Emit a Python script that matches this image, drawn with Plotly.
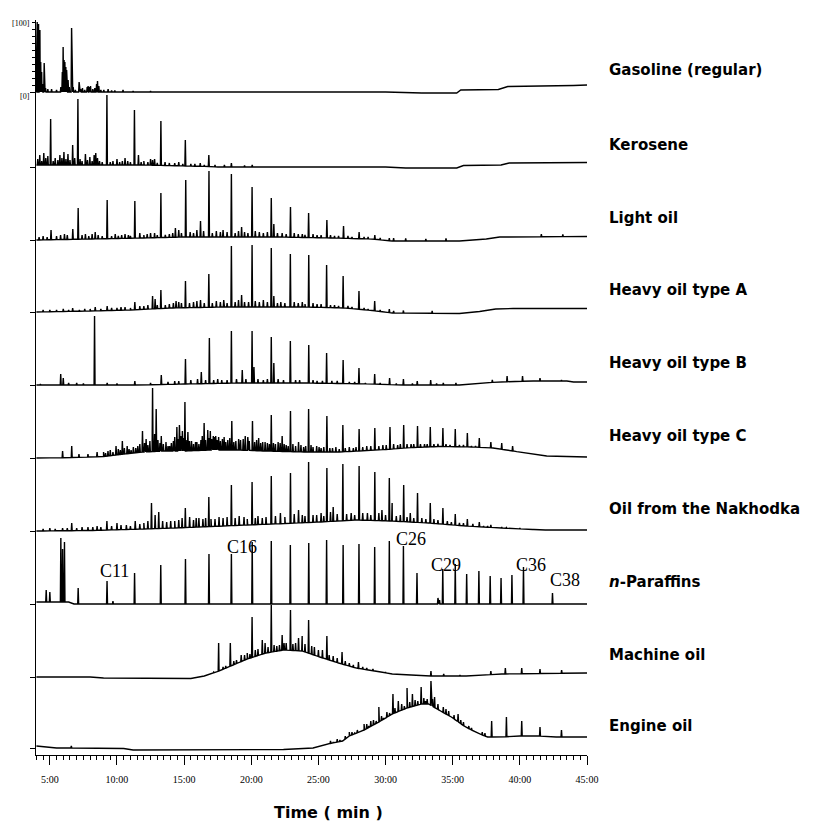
import numpy as np
import plotly.graph_objects as go

# ------------------------------------------------------------------ data
trace_names = ["Gasoline (regular)", "Kerosene", "Light oil", "Heavy oil type A",
               "Heavy oil type B", "Heavy oil type C", "Oil from the Nakhodka",
               "<i>n</i>-Paraffins", "Machine oil", "Engine oil"]

tick_times = [5, 10, 15, 20, 25, 30, 35, 40, 45]
tick_labels = ["5:00", "10:00", "15:00", "20:00", "25:00", "30:00", "35:00", "40:00", "45:00"]

# baseline drift (time [min], level) and peaks (time [min], height) for each chromatogram
gasoline_base = [(4, 0), (30, 0), (32.7, -1), (35.3, -1), (35.6, 2), (38.4, 2.5), (39.1, 5.5), (44, 6.5), (45, 7)]
gasoline_peaks = [(4.02, 40), (4.06, 70), (4.11, 55), (4.16, 68), (4.21, 45), (4.26, 62), (4.32, 30), (4.39, 20),
                  (4.45, 8), (4.58, 29), (4.68, 4), (4.85, 3), (5.13, 3), (5.5, 2), (5.82, 5), (5.93, 20), (5.99, 45),
                  (6.06, 32), (6.12, 30), (6.19, 25), (6.25, 22), (6.31, 14), (6.36, 12), (6.45, 5), (6.62, 64),
                  (6.74, 5), (6.9, 2), (7.18, 10), (7.3, 3), (7.43, 4), (7.6, 2), (7.78, 5), (7.85, 6), (7.95, 5),
                  (8.03, 6), (8.2, 3), (8.35, 4), (8.48, 8), (8.55, 11), (8.65, 6), (8.8, 2), (9.02, 2), (9.34, 3),
                  (9.6, 1.5), (9.84, 1.5), (10.45, 2), (11.2, 1), (12.5, 1)]

kerosene_base = [(4, 2), (9, 2), (12, 2), (16.8, 0.5), (17.5, 0), (30, 0), (31.5, -1), (35.3, -1), (35.8, 1.5),
                 (38.6, 2), (39.2, 4), (45, 4.5)]
kerosene_peaks = [(5.06, 48), (7.09, 68), (9.25, 72), (11.3, 57), (13.27, 46), (15.09, 27), (16.84, 12), (18.52, 4),
                  (20.07, 2),
                  (4.1, 8), (4.25, 12), (4.4, 6), (4.55, 14), (4.7, 9), (4.85, 11), (5.25, 6), (5.4, 9), (5.6, 7),
                  (5.75, 12), (5.9, 9), (6.05, 15), (6.2, 8), (6.35, 13), (6.5, 7), (6.7, 22), (6.85, 9), (7.25, 8),
                  (7.4, 6), (7.65, 13), (7.8, 7), (7.98, 10), (8.15, 6), (8.3, 12), (8.42, 14), (8.55, 9), (8.7, 6),
                  (8.9, 5), (9.5, 5), (9.7, 6), (10.0, 8), (10.2, 5), (10.4, 6), (10.6, 9), (10.8, 6), (11.0, 5),
                  (11.6, 12), (11.8, 5), (12.0, 6), (12.3, 5), (12.5, 8), (12.65, 7), (12.8, 8), (13.0, 4),
                  (13.58, 5), (13.9, 4), (14.3, 4), (14.6, 5), (14.9, 3), (15.5, 3), (15.8, 3), (16.2, 4), (16.5, 2),
                  (17.3, 2), (18.0, 2), (19.5, 1.5)]

light_base = [(4, 0), (8, 1), (12, 2), (15, 3), (22, 3), (26, 2), (29, 1), (30.5, -1), (35.5, -1), (37.5, 1),
              (38.5, 3), (45, 3.5)]
light_peaks = [(7.11, 32), (9.27, 40), (11.33, 39), (13.27, 47), (15.12, 60), (16.85, 69), (18.52, 66), (20.06, 53),
               (21.49, 42), (22.92, 33), (24.27, 27), (25.63, 20), (26.87, 14), (28.03, 8), (29.2, 5), (30.28, 2),
               (4.2, 3), (4.5, 4), (4.8, 3), (5.09, 10), (5.5, 4), (5.8, 5), (6.09, 6), (6.3, 5), (6.71, 11),
               (7.4, 5), (7.65, 6), (7.9, 4), (8.15, 6), (8.38, 8), (8.6, 5), (8.9, 4), (9.6, 4), (9.87, 6),
               (10.1, 4), (10.35, 5), (10.6, 6), (10.85, 5), (11.0, 4), (11.7, 7), (12.0, 5), (12.25, 6), (12.5, 7),
               (12.8, 7), (13.0, 5), (13.6, 5), (13.9, 6), (14.15, 7), (14.35, 12), (14.6, 10), (14.8, 7),
               (15.45, 8), (15.7, 7), (15.95, 10), (16.22, 19), (16.45, 9), (17.1, 7), (17.4, 9), (17.7, 8),
               (17.9, 10), (18.2, 8), (18.8, 7), (19.05, 9), (19.28, 13), (19.5, 8), (19.75, 7), (20.3, 9),
               (20.6, 8), (20.9, 7), (21.2, 8), (21.68, 16), (21.95, 7), (22.3, 7), (22.6, 6), (23.2, 7), (23.5, 6),
               (23.8, 6), (24.0, 5), (24.6, 6), (24.9, 5), (25.2, 5), (25.9, 5), (26.2, 4), (26.5, 4), (27.2, 4),
               (27.5, 3), (28.4, 3), (28.7, 3), (29.6, 2), (30.6, 2), (31.5, 1.5), (33, 1), (34.5, 1.5),
               (41.6, 6), (43.2, 5.5)]

heavyA_base = [(4, 0), (8, 1), (11, 2), (14, 4), (18, 5), (24, 5), (27, 4), (29, 1.5), (30.5, -1), (35.5, -1.5),
               (37, 0.5), (38.2, 3), (39.5, 3.5), (45, 3.5)]
heavyA_peaks = [(9.27, 6), (11.33, 10), (12.65, 16), (12.84, 13), (13.27, 22), (15.1, 31), (16.84, 38), (18.52, 66),
                (20.06, 67), (21.49, 64), (22.91, 58), (24.28, 57), (25.61, 47), (26.84, 36), (28.02, 21),
                (29.19, 11), (30.28, 3), (31.33, 1.5), (33.47, 1),
                (4.5, 2), (5.0, 2), (5.5, 2), (6.0, 3), (6.4, 2), (6.7, 4), (7.2, 2), (7.6, 3), (8.0, 3), (8.38, 5),
                (8.8, 3), (9.6, 4), (10.0, 4), (10.3, 5), (10.6, 5), (11.0, 4), (11.7, 6), (12.0, 6), (12.3, 7),
                (13.0, 7), (13.6, 7), (13.9, 8), (14.2, 9), (14.4, 11), (14.6, 10), (14.8, 9), (15.4, 9),
                (15.7, 10), (15.95, 11), (16.22, 12), (16.5, 9), (17.1, 9), (17.4, 11), (17.7, 10), (17.95, 12),
                (18.2, 9), (18.8, 10), (19.05, 12), (19.28, 17), (19.5, 10), (19.8, 10), (20.3, 11), (20.6, 10),
                (20.9, 12), (21.2, 10), (21.68, 16), (21.95, 9), (22.2, 10), (22.5, 9), (23.2, 10), (23.5, 9),
                (23.8, 10), (24.0, 8), (24.6, 9), (24.9, 8), (25.2, 8), (25.9, 7), (26.2, 7), (26.5, 6), (27.2, 6),
                (27.5, 5), (28.4, 4), (28.7, 3), (29.6, 2), (30.6, 1)]

heavyB_base = [(4, 0), (12, 0), (15, 1), (19, 2), (24, 2), (29, 1), (31, 0), (35.5, 0), (36.8, 1), (37.8, 2.5),
               (39.5, 3.5), (41, 4), (43.5, 4), (44, 3), (45, 3)]
heavyB_peaks = [(5.81, 11), (6.0, 7), (8.33, 69), (13.3, 10), (15.1, 26), (16.28, 13), (16.88, 47), (18.52, 54),
                (19.33, 15), (20.06, 54), (20.2, 18), (21.49, 48), (21.68, 22), (22.91, 44), (24.28, 40),
                (25.61, 32), (26.84, 25), (28.02, 17), (29.19, 11), (30.3, 7), (31.33, 6), (32.36, 4), (33.36, 5),
                (34.3, 2), (35.24, 2), (37.95, 5), (39.05, 9), (40.2, 9), (41.5, 7), (43.1, 5),
                (4.3, 1), (6.4, 2), (7.0, 2), (7.5, 1.5), (9.27, 2), (10, 1.5), (11.33, 4), (12.5, 2), (13.8, 3),
                (14.3, 4), (14.6, 4), (15.5, 5), (16.0, 6), (16.6, 5), (17.2, 5), (17.5, 6), (17.8, 5), (18.2, 5),
                (18.9, 6), (19.6, 6), (20.5, 6), (20.9, 5), (21.2, 6), (22.0, 6), (22.4, 5), (23.3, 5), (23.6, 5),
                (24.6, 5), (24.9, 4), (25.3, 4), (26.0, 4), (26.4, 4), (27.3, 3), (27.7, 3), (28.5, 2), (29.6, 2),
                (30.8, 1.5), (32, 1.5), (33.8, 1.5), (36, 1)]

heavyC_base = [(4, 0), (7, 0.5), (9, 1.5), (10.5, 4), (12, 6), (13.5, 7), (15, 7), (17, 8), (19, 8), (21, 7),
               (24, 6), (26.5, 6), (28, 7), (30, 8.5), (32, 10.5), (34, 11.5), (36.5, 11), (38, 10), (39.5, 7),
               (40.8, 4), (42, 2), (43.5, 1.5), (45, 1)]
heavyC_peaks = [(5.95, 7), (6.63, 12), (7.17, 4), (7.84, 4), (8.52, 6), (9.33, 7), (9.93, 12), (10.4, 17),
                (10.76, 12), (11.22, 11), (11.9, 27), (12.17, 19), (12.65, 70), (12.92, 49), (13.3, 22), (13.65, 16),
                (13.92, 12), (14.46, 31), (14.65, 33), (14.87, 27), (15.06, 56), (15.28, 26), (15.55, 17),
                (15.95, 16), (16.49, 35), (16.76, 28), (16.95, 27), (17.17, 22), (17.35, 22), (17.57, 21),
                (17.98, 21), (18.55, 37), (19.06, 19), (19.55, 22), (19.74, 21), (20.09, 37), (20.55, 20),
                (21.03, 16), (21.49, 43), (22.3, 22), (22.92, 47), (23.52, 16), (24.27, 49), (24.87, 12),
                (25.63, 42), (26.82, 33), (28.03, 29), (29.2, 30), (30.33, 31), (31.35, 33), (32.38, 32),
                (33.33, 31), (34.27, 30), (35.19, 29), (36.09, 25), (36.98, 20), (37.84, 16), (38.65, 15),
                (39.46, 12),
                (9.0, 6), (9.15, 5), (9.5, 8), (9.7, 6), (10.1, 9), (10.25, 8), (10.55, 10), (10.9, 9), (11.05, 8),
                (11.4, 10), (11.55, 12), (11.7, 14), (12.05, 15), (12.3, 13), (12.45, 17), (12.8, 24), (13.05, 18),
                (13.2, 15), (13.45, 14), (13.8, 12), (14.05, 15), (14.2, 17), (14.3, 21), (14.55, 19), (14.75, 22),
                (14.95, 20), (15.15, 18), (15.4, 17), (15.7, 14), (15.85, 16), (16.1, 14), (16.25, 18), (16.35, 22),
                (16.6, 18), (16.85, 20), (17.05, 19), (17.25, 21), (17.45, 18), (17.7, 17), (17.85, 19), (18.1, 16),
                (18.25, 18), (18.4, 20), (18.7, 16), (18.85, 17), (19.2, 18), (19.4, 19), (19.85, 17), (20.25, 16),
                (20.4, 18), (20.7, 15), (20.85, 16), (21.2, 15), (21.35, 14), (21.65, 15), (21.8, 14), (22.0, 16),
                (22.15, 15), (22.45, 14), (22.6, 13), (22.75, 12), (23.1, 14), (23.3, 12), (23.7, 13), (23.9, 11),
                (24.05, 12), (24.45, 13), (24.6, 11), (25.05, 11), (25.2, 10), (25.4, 11), (25.85, 10), (26.05, 10),
                (26.3, 11), (26.55, 9), (27.0, 10), (27.3, 11), (27.6, 10), (27.8, 11), (28.3, 11), (28.6, 12),
                (28.9, 12), (29.5, 12), (29.8, 13), (30.05, 13), (30.6, 14), (30.9, 13), (31.1, 14), (31.6, 14),
                (31.9, 14), (32.1, 14), (32.6, 14), (32.9, 14), (33.1, 14), (33.6, 14), (33.9, 14), (34.5, 14),
                (34.8, 13), (35.5, 13), (35.8, 13), (36.4, 12), (36.7, 12), (37.3, 11), (37.6, 10), (38.2, 9),
                (38.9, 8), (39.8, 6), (40.3, 5)]

nakhodka_base = [(4, 0), (8, 0.5), (12, 2), (14.3, 3), (17, 4.5), (19.7, 6), (22.5, 7.5), (25.1, 9), (27.8, 11),
                 (30.5, 10), (33.2, 8), (36, 5), (38.6, 3), (41.9, 1), (45, 1)]
nakhodka_peaks = [(12.57, 28), (12.84, 16), (13.11, 19), (15.09, 23), (16.84, 34), (18.52, 46), (20.06, 49),
                  (21.49, 55), (22.92, 58), (24.27, 69), (25.63, 63), (26.82, 67), (28.03, 65), (29.2, 59),
                  (30.28, 53), (30.49, 28), (31.35, 46), (32.38, 38), (33.33, 28), (34.27, 23), (35.19, 17),
                  (36.09, 12), (36.98, 9), (37.84, 6), (38.65, 4),
                  (4.5, 2), (5.0, 3), (5.4, 2), (5.95, 3), (6.3, 3), (6.63, 8), (7.0, 3), (7.4, 4), (7.84, 4),
                  (8.2, 4), (8.52, 5), (8.8, 4), (9.25, 10), (9.6, 5), (10.0, 8), (10.3, 6), (10.7, 6), (11.0, 5),
                  (11.36, 10), (11.7, 7), (12.0, 8), (12.3, 10), (13.4, 10), (13.7, 9), (14.0, 10), (14.3, 10),
                  (14.6, 11), (14.85, 13), (15.41, 14), (15.7, 11), (15.9, 13), (16.1, 13), (16.4, 12), (16.6, 13),
                  (17.0, 12), (17.3, 12), (17.6, 14), (17.9, 13), (18.2, 14), (18.8, 13), (19.1, 15), (19.46, 14),
                  (19.7, 12), (20.3, 13), (20.5, 15), (20.82, 13), (21.1, 14), (21.8, 15), (22.17, 18), (22.5, 14),
                  (23.2, 17), (23.52, 21), (23.8, 16), (24.0, 15), (24.6, 16), (24.87, 16), (25.2, 18), (25.4, 15),
                  (25.9, 19), (26.1, 24), (26.4, 17), (27.1, 17), (27.44, 18), (27.7, 16), (28.3, 18), (28.65, 18),
                  (28.9, 16), (29.5, 18), (29.73, 21), (30.0, 16), (30.8, 15), (31.1, 16), (31.6, 14), (31.84, 18),
                  (32.1, 13), (32.7, 13), (33.0, 12), (33.6, 12), (33.9, 11), (34.6, 10), (34.9, 9), (35.5, 8),
                  (35.8, 8), (36.5, 7), (37.3, 5), (37.6, 5), (38.2, 4), (39, 3.5), (40, 3), (41, 2)]

paraffin_base = [(4, 2), (6.4, 2), (6.8, 0), (45, 0)]
paraffin_peaks = [(4.73, 14), (5.0, 12), (5.82, 66), (5.95, 55), (6.09, 62), (7.11, 16), (9.26, 23), (9.7, 3),
                  (11.31, 31), (13.26, 39), (15.1, 45), (16.85, 50), (18.52, 50), (20.07, 62), (21.49, 63),
                  (22.91, 59), (24.28, 61), (25.61, 64), (26.84, 59), (28.02, 60), (29.19, 57), (30.28, 63),
                  (31.33, 58), (32.34, 31), (33.9, 6), (34.02, 4), (34.26, 35), (35.19, 40), (36.04, 30),
                  (36.95, 33), (37.79, 28), (38.6, 26), (39.41, 29), (40.27, 37), (42.43, 11)]

machine_base = [(4, 0), (8, 0), (9, -1), (12, -1.5), (15.5, -1.5), (16.5, 1), (17.6, 6), (18.65, 12), (19.7, 18),
                (21.1, 24), (22.4, 27), (23.8, 26), (25.1, 20), (26.5, 14), (27.8, 9), (29.2, 6), (30.5, 3),
                (31.9, 2), (33, 1), (36, 1), (38.65, 3), (45, 4)]
machine_peaks = [(17.57, 34), (18.44, 34), (19.25, 22), (20.06, 60), (20.82, 37), (21.03, 34), (21.49, 72),
                 (22.3, 42), (22.44, 34), (22.92, 67), (23.52, 39), (23.79, 41), (24.27, 57), (25.0, 27),
                 (25.63, 41), (26.76, 25), (27.98, 15), (29.06, 8), (33.38, 6), (34.33, 3), (35.54, 2), (37.84, 6),
                 (38.92, 9), (40.14, 9), (41.5, 8), (43.11, 7),
                 (16.9, 3), (17.2, 5), (17.9, 10), (18.1, 11), (18.7, 16), (18.9, 17), (19.5, 22), (19.7, 24),
                 (19.9, 23), (20.3, 27), (20.5, 28), (21.25, 30), (21.7, 32), (21.9, 31), (22.1, 32), (22.6, 34),
                 (23.1, 33), (23.3, 34), (24.0, 33), (24.5, 31), (24.7, 30), (25.3, 27), (25.8, 22), (26.1, 21),
                 (26.4, 19), (27.0, 16), (27.3, 14), (27.6, 12), (28.3, 10), (28.6, 9), (29.5, 6), (30.0, 5)]

engine_base = [(4, 2), (4.6, 1), (5.5, 0), (8, 0), (10.5, -0.5), (11.2, -2), (18, -2), (22.4, -1.5), (24.6, 0),
               (25.7, 4), (26.8, 7), (27.3, 12), (28.4, 18), (29.5, 26), (30.5, 34), (31.6, 40), (32.7, 44),
               (33.2, 44), (34.1, 37), (34.9, 31), (35.95, 21), (37, 14), (37.6, 11), (38.65, 11), (40, 12),
               (41.4, 12), (42.7, 11), (45, 11)]
engine_peaks = [(6.6, 2), (27.3, 16), (28.4, 24), (28.9, 27), (29.5, 41), (30.55, 54), (30.95, 47), (31.6, 60),
                (32.0, 54), (32.65, 61), (32.98, 47), (33.38, 67), (33.65, 51), (35.4, 34), (36.77, 14), (37.9, 27),
                (39.0, 31), (40.14, 27), (41.5, 21), (43.1, 18),
                (25.9, 7), (26.1, 6), (26.4, 9), (26.6, 8), (27.0, 12), (27.15, 11), (27.5, 16), (27.7, 15),
                (27.9, 18), (28.1, 17), (28.6, 24), (28.75, 22), (29.1, 28), (29.3, 27), (29.7, 32), (29.85, 30),
                (30.1, 36), (30.3, 35), (30.7, 40), (31.2, 44), (31.4, 42), (31.8, 46), (32.2, 48), (32.4, 47),
                (32.85, 50), (33.1, 49), (33.5, 49), (33.9, 44), (34.3, 41), (34.5, 39), (34.7, 37), (35.1, 33),
                (35.6, 28), (35.8, 26), (36.2, 22), (36.4, 20), (37.2, 16), (37.4, 15)]

paraffin_label_text = ["C11", "C16", "C26", "C29", "C36", "C38"]

# ------------------------------------------------------------------ layout constants
W, H = 832, 823
PLOT_L, PLOT_R, PLOT_T, PLOT_B = 36, 587, 20, 755
T_MIN, T_MAX = 3.97, 45.0
offsets = [663, 588, 515, 443, 370, 297, 224, 151, 78, 7]   # trace zero levels (px above time axis)
label_py = [70, 145, 218, 290, 363, 436, 509, 582, 655, 726]
paraffin_label_px = [(114, 571), (242, 547), (411, 539), (446, 565), (531, 565), (565, 580)]

bases = [gasoline_base, kerosene_base, light_base, heavyA_base, heavyB_base,
         heavyC_base, nakhodka_base, paraffin_base, machine_base, engine_base]
peaks = [gasoline_peaks, kerosene_peaks, light_peaks, heavyA_peaks, heavyB_peaks,
         heavyC_peaks, nakhodka_peaks, paraffin_peaks, machine_peaks, engine_peaks]


def build_line(base, pk, half=0.035):
    bt = np.array([b[0] for b in base], float)
    bv = np.array([b[1] for b in base], float)
    pts = [(t, v, 0) for t, v in base]
    for t, h in pk:
        lo, hi = t - half, t + half
        pts.append((lo, float(np.interp(lo, bt, bv)), 1))
        pts.append((t, max(h, float(np.interp(t, bt, bv))), 2))
        pts.append((hi, float(np.interp(hi, bt, bv)), 3))
    pts.sort(key=lambda p: (p[0], p[2]))
    return [p[0] for p in pts], [p[1] for p in pts]


fig = go.Figure()
for name, base, pk, off in zip(trace_names, bases, peaks, offsets):
    x, y = build_line(base, pk)
    fig.add_trace(go.Scatter(x=x, y=[v + off for v in y], mode="lines", name=name,
                             line=dict(color="black", width=1.4), showlegend=False,
                             hoverinfo="skip"))

plot_w = PLOT_R - PLOT_L
plot_h = PLOT_B - PLOT_T


def px_to_t(px):
    return T_MIN + (px - PLOT_L) / plot_w * (T_MAX - T_MIN)


annotations = []
for name, py in zip(trace_names, label_py):
    annotations.append(dict(x=(607 - PLOT_L) / plot_w, xref="paper", xanchor="left",
                            y=PLOT_B - py, yref="y", yanchor="middle", text=name, showarrow=False,
                            font=dict(family="DejaVu Sans", size=15, color="black", weight="bold")))
for txt, (px, py) in zip(paraffin_label_text, paraffin_label_px):
    annotations.append(dict(x=px_to_t(px), xref="x", y=PLOT_B - py, yref="y", text=txt, showarrow=False,
                            xanchor="center", yanchor="middle",
                            font=dict(family="Liberation Serif", size=18, color="black")))
annotations.append(dict(x=(328 - PLOT_L) / plot_w, xref="paper", y=(PLOT_B - 812) / plot_h, yref="paper",
                        text="Time ( min )", showarrow=False, xanchor="center", yanchor="middle",
                        font=dict(family="DejaVu Sans", size=16, color="black", weight="bold")))
annotations.append(dict(x=(32 - PLOT_L) / plot_w, xref="paper", xanchor="right", y=PLOT_B - 23, yref="y",
                        yanchor="middle", text="[100]", showarrow=False,
                        font=dict(family="Liberation Sans Narrow", size=8, color="black")))
annotations.append(dict(x=(32 - PLOT_L) / plot_w, xref="paper", xanchor="right", y=PLOT_B - 96, yref="y",
                        yanchor="middle", text="[0]", showarrow=False,
                        font=dict(family="Liberation Sans Narrow", size=8, color="black")))

scale_ticks = [offsets[0] + 7 * k for k in range(11)]

fig.update_layout(
    width=W, height=H,
    margin=dict(l=PLOT_L, r=W - PLOT_R, t=PLOT_T, b=H - PLOT_B),
    paper_bgcolor="white", plot_bgcolor="white",
    annotations=annotations,
    xaxis=dict(range=[T_MIN, T_MAX], showgrid=False, zeroline=False, showline=True, linecolor="black",
               linewidth=1.3, ticks="outside", ticklen=9, tickwidth=1.3, tickcolor="black",
               tickvals=tick_times, ticktext=tick_labels, ticklabelstandoff=6,
               tickfont=dict(family="Liberation Sans Narrow", size=10, color="black"),
               minor=dict(dtick=0.5, tick0=0, ticks="outside", ticklen=4, tickwidth=1, tickcolor="black")),
    yaxis=dict(range=[0, plot_h], showgrid=False, zeroline=False, showline=True, linecolor="black",
               linewidth=1.3, ticks="outside", ticklen=5, tickwidth=1.2, tickcolor="black",
               tickvals=offsets, showticklabels=False),
    yaxis2=dict(range=[0, plot_h], overlaying="y", side="left", anchor="x", showgrid=False, zeroline=False,
                showline=False, ticks="outside", ticklen=3, tickwidth=1, tickcolor="black",
                tickvals=scale_ticks, showticklabels=False),
)
# invisible point that activates the scale axis
fig.add_trace(go.Scatter(x=[T_MIN], y=[0], yaxis="y2", mode="markers", marker=dict(opacity=0),
                         showlegend=False, hoverinfo="skip"))

fig.write_html("out.html")
